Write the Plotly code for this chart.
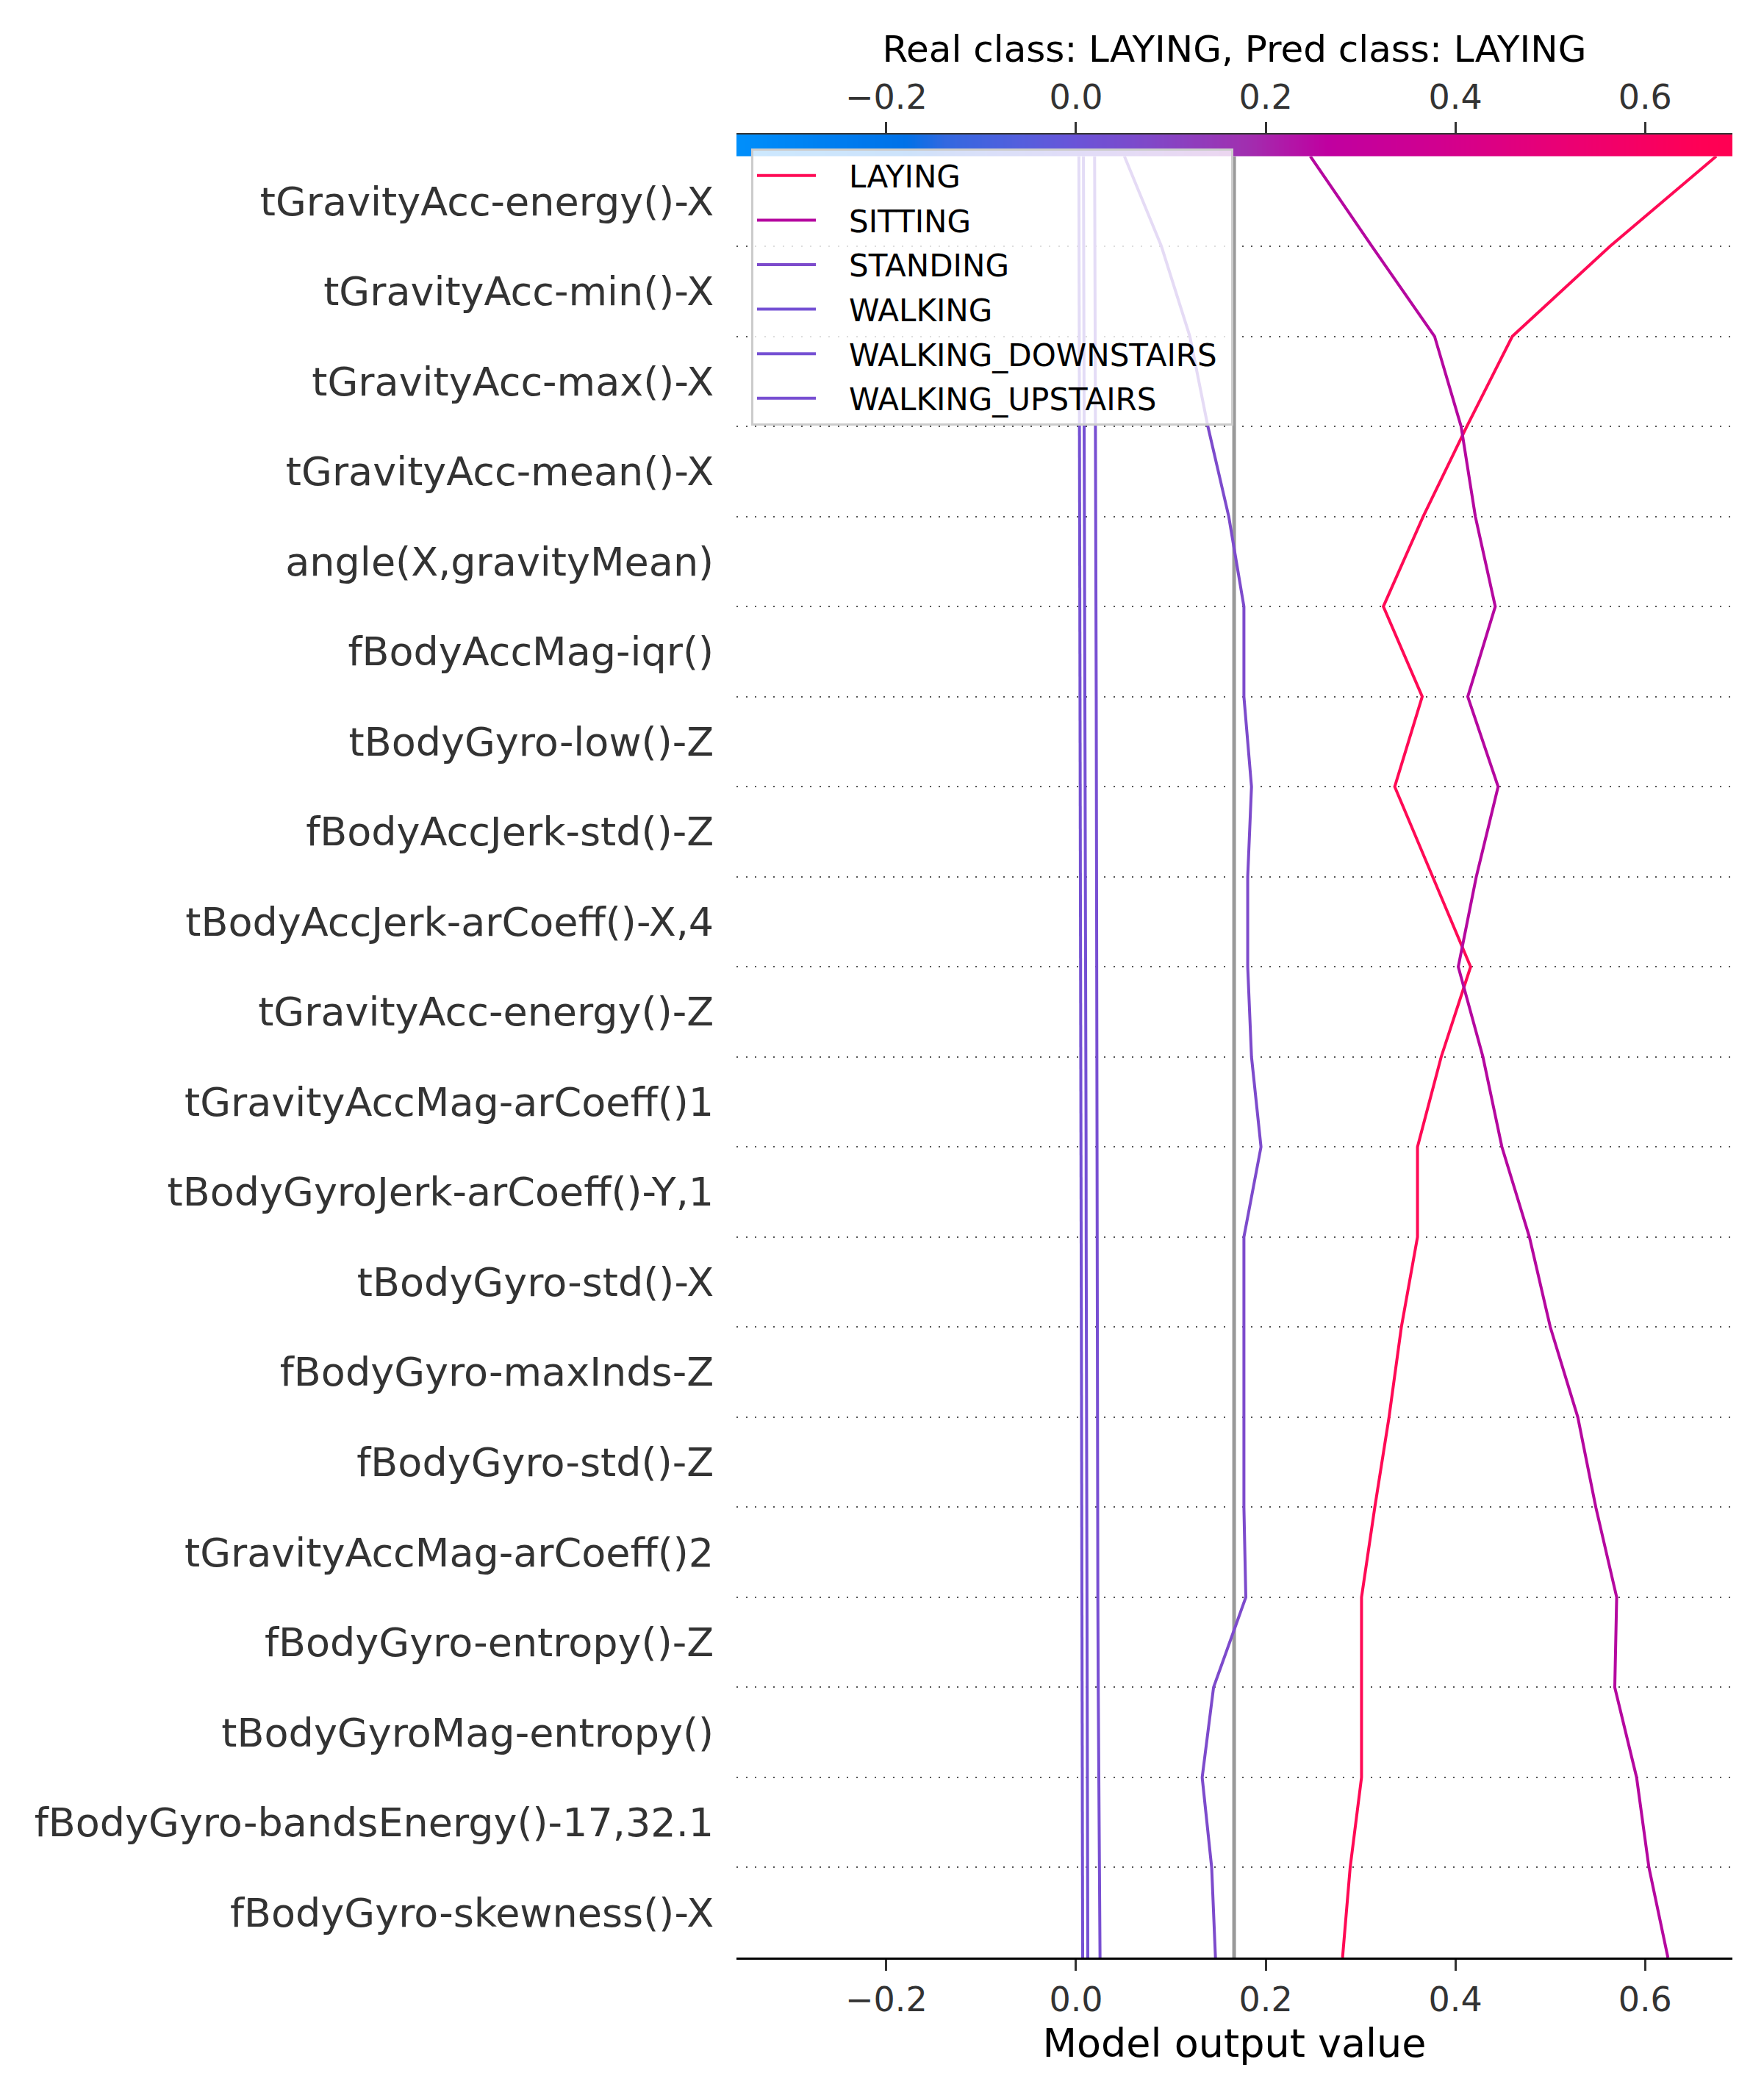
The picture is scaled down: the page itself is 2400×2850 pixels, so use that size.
import plotly.graph_objects as go
import numpy as np

# ---------------- data ----------------
features_top_to_bottom = [
    "tGravityAcc-energy()-X",
    "tGravityAcc-min()-X",
    "tGravityAcc-max()-X",
    "tGravityAcc-mean()-X",
    "angle(X,gravityMean)",
    "fBodyAccMag-iqr()",
    "tBodyGyro-low()-Z",
    "fBodyAccJerk-std()-Z",
    "tBodyAccJerk-arCoeff()-X,4",
    "tGravityAcc-energy()-Z",
    "tGravityAccMag-arCoeff()1",
    "tBodyGyroJerk-arCoeff()-Y,1",
    "tBodyGyro-std()-X",
    "fBodyGyro-maxInds-Z",
    "fBodyGyro-std()-Z",
    "tGravityAccMag-arCoeff()2",
    "fBodyGyro-entropy()-Z",
    "tBodyGyroMag-entropy()",
    "fBodyGyro-bandsEnergy()-17,32.1",
    "fBodyGyro-skewness()-X",
]

class_names = ["LAYING", "SITTING", "STANDING", "WALKING",
               "WALKING_DOWNSTAIRS", "WALKING_UPSTAIRS"]

# cumulative model output, from the bottom (base) row y=0 up to the top y=20
laying = [0.281, 0.289, 0.301, 0.301, 0.301, 0.315, 0.330, 0.343, 0.360, 0.360,
          0.385, 0.416, 0.376, 0.336, 0.365, 0.324, 0.366, 0.412, 0.460, 0.563, 0.675]
sitting = [0.624, 0.604, 0.591, 0.568, 0.570, 0.548, 0.529, 0.500, 0.478, 0.449,
           0.429, 0.403, 0.422, 0.445, 0.413, 0.442, 0.421, 0.406, 0.378, 0.312, 0.247]
standing = [0.147, 0.143, 0.133, 0.145, 0.179, 0.177, 0.177, 0.177, 0.177, 0.195,
            0.185, 0.181, 0.181, 0.185, 0.177, 0.177, 0.161, 0.139, 0.120, 0.090, 0.051]
walking = [0.0070, 0.0068, 0.0066, 0.0064, 0.0062, 0.0060, 0.0058, 0.0056, 0.0055, 0.0054,
           0.0052, 0.0050, 0.0048, 0.0046, 0.0044, 0.0042, 0.0040, 0.0038, 0.0035, 0.0033, 0.0030]
walking_down = [0.0124, 0.0121, 0.0118, 0.0116, 0.0114, 0.0112, 0.0110, 0.0108, 0.0107, 0.0106,
                0.0104, 0.0102, 0.0099, 0.0096, 0.0092, 0.0087, 0.0085, 0.0083, 0.0081, 0.0080, 0.0078]
walking_up = [0.0253, 0.0245, 0.0238, 0.0234, 0.0230, 0.0229, 0.0227, 0.0225, 0.0224, 0.0222,
              0.0220, 0.0219, 0.0217, 0.0215, 0.0213, 0.0210, 0.0207, 0.0204, 0.0201, 0.0199, 0.0196]

class_values = [laying, sitting, standing, walking, walking_down, walking_up]
class_colors = ["#ff0a55", "#b5089f", "#7d4bcc", "#7450d3", "#7550d3", "#784fd2"]

base_value = 1.0 / 6.0
x_range = [-0.358, 0.692]
x_ticks = [-0.2, 0.0, 0.2, 0.4, 0.6]
x_tick_text = ["\u22120.2", "0.0", "0.2", "0.4", "0.6"]

title_text = "Real class: LAYING, Pred class: LAYING"
xlabel_text = "Model output value"

# ---------------- figure ----------------
n_feat = len(features_top_to_bottom)
row_pos = list(range(n_feat + 1))
labels_bottom_to_top = features_top_to_bottom[::-1]

FONT = "DejaVu Sans"
fig = go.Figure()

# base value line
fig.add_trace(go.Scatter(x=[base_value, base_value], y=[0, n_feat], mode="lines",
                         line=dict(color="#999999", width=5), showlegend=False,
                         hoverinfo="skip"))

PAD = "\u00a0\u00a0\u00a0"
for name, vals, col in zip(class_names, class_values, class_colors):
    fig.add_trace(go.Scatter(x=vals, y=row_pos, mode="lines",
                             name=PAD + name + "\u00a0",
                             legendgroup=name,
                             line=dict(color=col, width=4)))

# top colour bar
cb_x = np.linspace(x_range[0], x_range[1], 400)
cscale = [
    [0.00, "#008ffb"], [0.17, "#0071e8"], [0.21, "#3368e0"], [0.30, "#5a5cdc"],
    [0.34, "#6a54d8"], [0.415, "#8048c8"], [0.51, "#a030b0"], [0.594, "#c000a0"],
    [0.70, "#d00090"], [0.83, "#ea0074"], [0.97, "#ff0055"], [1.00, "#ff0052"],
]
fig.add_trace(go.Heatmap(x=cb_x, y=[0.5], z=[list(cb_x)], colorscale=cscale,
                         zmin=x_range[0], zmax=x_range[1], showscale=False,
                         xaxis="x2", yaxis="y2", hoverinfo="skip"))

W, H = 2400, 2850
left, right = 1002, 2357
top_cb, top_ax, bottom_ax = 183, 212.5, 2663
plot_h = bottom_ax - top_cb
split = (bottom_ax - top_ax) / plot_h

fig.update_layout(
    width=W, height=H,
    margin=dict(l=left, r=W - right, t=top_cb, b=H - bottom_ax, pad=0),
    paper_bgcolor="white", plot_bgcolor="white",
    font=dict(family=FONT, color="#333333"),
    title=dict(text=title_text, x=0.5, xref="paper", xanchor="center",
               y=1 - 66 / H, yref="container", yanchor="middle",
               font=dict(size=50, color="black", family=FONT)),
    xaxis=dict(domain=[0, 1], anchor="y", range=x_range, tickvals=x_ticks,
               ticktext=x_tick_text, ticks="outside", ticklen=15, tickwidth=2.5,
               tickcolor="#333333", showline=True, linecolor="black", linewidth=3,
               showgrid=False, zeroline=False,
               tickfont=dict(size=46, color="#333333", family=FONT),
               title=dict(text=xlabel_text, standoff=14,
                          font=dict(size=54, color="black", family=FONT))),
    xaxis2=dict(domain=[0, 1], anchor="y2", side="top", range=x_range,
                tickvals=x_ticks, ticktext=x_tick_text, ticks="outside",
                ticklen=15, tickwidth=2.5, tickcolor="#333333", showline=True,
                linecolor="#333333", linewidth=2, showgrid=False, zeroline=False,
                tickfont=dict(size=46, color="#333333", family=FONT)),
    yaxis=dict(domain=[0, split], anchor="x", range=[0, n_feat],
               tickvals=[i + 0.5 for i in range(n_feat)],
               ticktext=labels_bottom_to_top, ticks="outside", ticklen=19,
               tickcolor="rgba(0,0,0,0)", showline=False, showgrid=False,
               zeroline=False,
               tickfont=dict(size=54, color="#333333", family=FONT),
               minor=dict(tickvals=list(range(n_feat)), showgrid=True,
                          gridcolor="#555555", griddash="2px,10.5px", gridwidth=2,
                          ticks="")),
    yaxis2=dict(domain=[split, 1], anchor="x2", range=[0, 1], visible=False),
    legend=dict(x=(1022 - left) / (right - left), y=(bottom_ax - 202) / plot_h,
                xanchor="left", yanchor="top", bgcolor="rgba(255,255,255,0.8)",
                bordercolor="#cccccc", borderwidth=3, itemwidth=80,
                tracegroupgap=3,
                font=dict(size=42, color="black", family=FONT)),
)

fig.write_html("out.html")
